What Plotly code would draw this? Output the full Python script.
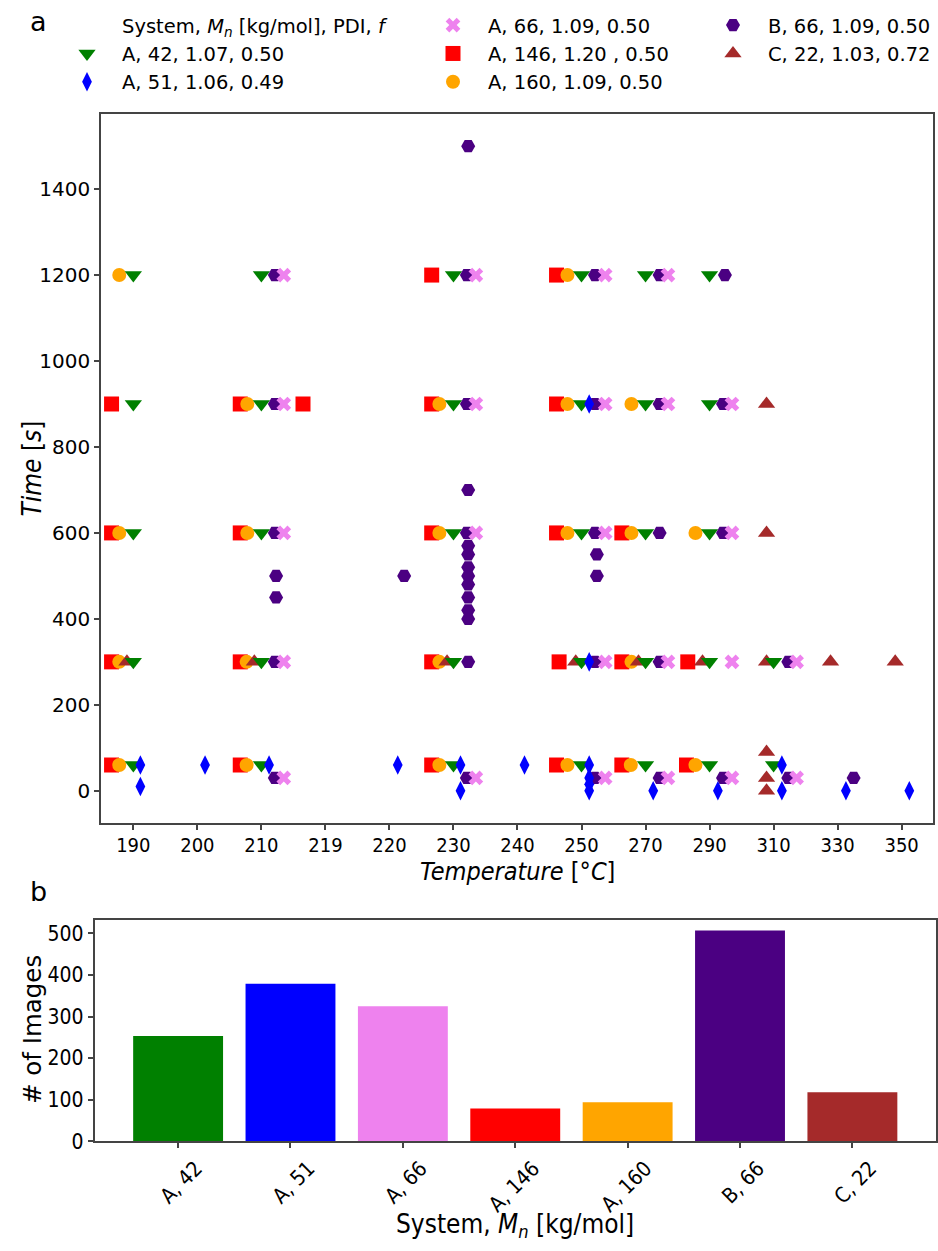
import plotly.graph_objects as go

# ---------------- data ----------------
temp_tickvals = [190, 200, 210, 220, 230, 240, 250, 260, 270, 280, 290, 300, 310]
temp_ticktext = ["190", "200", "210", "219", "220", "230", "240", "250",
                 "270", "290", "310", "330", "350"]
time_tickvals = [0, 200, 400, 600, 800, 1000, 1200, 1400]

# A, 42 (green, triangle-down)
a42_T = [190, 210, 240, 260, 270, 280,
         190, 210, 240, 260, 270, 280,
         190, 210, 240, 260, 270, 280,
         190, 210, 240, 260, 270, 280, 290,
         190, 210, 240, 260, 270, 280, 290]
a42_t = [1200] * 6 + [900] * 6 + [600] * 6 + [300] * 7 + [60] * 7

# A, 51 (blue, diamond)
a51_T = [191.1, 191.1, 201.2, 211.2, 231.3, 241.1, 241.1, 251.1, 261.2, 261.2,
         261.2, 261.2, 261.2, 261.2, 271.2, 281.3, 291.3, 291.3, 301.3, 311.2]
a51_t = [60, 10, 60, 60, 60, 60, 0, 60, 60, 30,
         15, 0, 300, 900, 0, 0, 60, 0, 0, 0]

# A, 66 (violet, x)
a66_T = [213.5, 243.5, 263.7, 273.5,
         213.5, 243.5, 263.7, 273.5, 283.5,
         213.5, 243.5, 263.7, 283.5,
         213.5, 263.7, 273.5, 283.5, 293.6,
         213.5, 243.5, 263.7, 273.5, 283.5, 293.6]
a66_t = [1200] * 4 + [900] * 5 + [600] * 4 + [300] * 5 + [30] * 6

# A, 146 (red, square)
a146_T = [236.6, 256.1,
          186.6, 206.7, 216.5, 236.6, 256.1,
          186.6, 206.7, 236.6, 256.1, 266.3,
          186.6, 206.7, 236.6, 256.5, 266.3, 276.6,
          186.6, 206.7, 236.6, 256.1, 266.3, 276.4]
a146_t = [1200] * 2 + [900] * 5 + [600] * 5 + [300] * 6 + [60] * 6

# A, 160 (orange, circle)
a160_T = [187.8, 257.8,
          207.8, 237.8, 257.8, 267.8,
          187.8, 207.8, 237.8, 257.8, 267.8, 277.8,
          187.8, 207.7, 237.8, 267.8,
          187.8, 207.7, 237.8, 257.8, 267.7, 277.8]
a160_t = [1200] * 2 + [900] * 4 + [600] * 6 + [300] * 4 + [60] * 6

# B, 66 (indigo, hexagon)
b66_T = [242.3,
         212.1, 242.1, 262.1, 272.2, 282.4,
         212.1, 242.1, 262.1, 272.2, 282.1,
         242.3,
         212.1, 242.1, 262.1, 272.2, 282.1,
         242.3, 242.3, 242.3, 242.3, 242.3, 242.3, 242.3, 242.3,
         212.3, 212.3, 232.3, 262.4, 262.4,
         212.1, 242.3, 262.1, 272.2, 292.3,
         212.1, 242.1, 262.1, 272.2, 282.1, 292.3, 302.5]
b66_t = [1500,
         1200, 1200, 1200, 1200, 1200,
         900, 900, 900, 900, 900,
         700,
         600, 600, 600, 600, 600,
         570, 550, 520, 500, 480, 450, 420, 400,
         500, 450, 500, 550, 500,
         300, 300, 300, 300, 300,
         30, 30, 30, 30, 30, 30, 30]

# C, 22 (brown, triangle-up)
c22_T = [288.9, 288.9,
         189.0, 208.9, 239.0, 259.1, 268.9, 278.9, 288.9, 298.9, 309.0,
         288.9, 288.9, 288.9]
c22_t = [900, 600,
         300, 300, 300, 300, 300, 300, 300, 300, 300,
         90, 30, 0]

# Bar chart
bar_labels = ["A, 42", "A, 51", "A, 66", "A, 146", "A, 160", "B, 66", "C, 22"]
bar_values = [253, 379, 325, 79, 94, 507, 118]
bar_colors = ["#008000", "#0000ff", "#ee82ee", "#ff0000", "#ffa500", "#4b0082", "#a52a2a"]

# ---------------- figure ----------------
W, H = 938, 1251
SANS = "DejaVu Sans"
COND = "DejaVu Sans Condensed, DejaVu Sans"
AX = "#444444"

def px_x(p):
    return p / W

def px_y(p):
    return 1 - p / H

fig = go.Figure()

series = [
    # (name, T, t, symbol, size, color, legend, rank) -- listed in drawing order
    ("A, 146, 1.20 , 0.50", a146_T, a146_t, "square", 15, "#ff0000", "legend2", 5),
    ("A, 160, 1.09, 0.50", a160_T, a160_t, "circle", 14, "#ffa500", "legend2", 6),
    ("C, 22, 1.03, 0.72", c22_T, c22_t, "triangle-up", 15, "#a52a2a", "legend3", 8),
    ("A, 42, 1.07, 0.50", a42_T, a42_t, "triangle-down", 15, "#008000", "legend", 2),
    ("B, 66, 1.09, 0.50", b66_T, b66_t, "hexagon2", 14, "#4b0082", "legend3", 7),
    ("A, 66, 1.09, 0.50", a66_T, a66_t, "x", 13, "#ee82ee", "legend2", 4),
    ("A, 51, 1.06, 0.49", a51_T, a51_t, "diamond-tall", 14, "#0000ff", "legend", 3),
]

# legend heading row (no marker), aligned with the entry texts
fig.add_trace(go.Scatter(
    x=[None], y=[None], mode="markers",
    marker=dict(size=1, opacity=0, color="white"),
    name="System, <i>M<sub>n</sub></i> [kg/mol], PDI, <i>f</i>",
    legend="legend", legendrank=1, showlegend=True, hoverinfo="skip",
    xaxis="x", yaxis="y"))

for name, T, t, sym, size, col, leg, rank in series:
    fig.add_trace(go.Scatter(
        x=T, y=t, mode="markers", name=name,
        marker=dict(symbol=sym, size=size, color=col, line=dict(width=0)),
        legend=leg, legendrank=rank, xaxis="x", yaxis="y"))

fig.add_trace(go.Bar(
    x=bar_labels, y=bar_values, marker=dict(color=bar_colors, line=dict(width=0)),
    width=0.8, showlegend=False, xaxis="x2", yaxis="y2"))

axis_common = dict(showline=True, mirror=True, linecolor=AX, linewidth=1.5,
                   ticks="outside", ticklen=5, tickwidth=1.5, tickcolor=AX,
                   showgrid=False, zeroline=False)

legend_common = dict(xanchor="left", yanchor="top", orientation="v",
                     font=dict(family=SANS, size=19.5, color="black"),
                     bgcolor="rgba(0,0,0,0)", borderwidth=0, tracegroupgap=0,
                     itemwidth=60)

fig.update_layout(
    width=W, height=H, margin=dict(l=0, r=0, t=0, b=0),
    paper_bgcolor="white", plot_bgcolor="white",
    xaxis=dict(domain=[px_x(101), px_x(933)], range=[184.95, 314.9], anchor="y",
               tickvals=temp_tickvals, ticktext=temp_ticktext, ticklabelstandoff=-2,
               tickfont=dict(family=COND, size=20, color="black"), **axis_common),
    yaxis=dict(domain=[px_y(831), px_y(115)], range=[-75, 1575], anchor="x",
               tickvals=time_tickvals,
               tickfont=dict(family=SANS, size=20, color="black"), **axis_common),
    xaxis2=dict(domain=[px_x(94.5), px_x(936)], range=[-0.744, 6.744], anchor="y2",
                type="category", tickangle=-45, ticklabelshift=18,
                tickfont=dict(family=COND, size=21, color="black"), **axis_common),
    yaxis2=dict(domain=[px_y(1152.3), px_y(929)], range=[0, 532], anchor="x2",
                tickvals=[0, 100, 200, 300, 400, 500],
                tickfont=dict(family=COND, size=21, color="black"), **axis_common),
    legend=dict(x=px_x(52), y=px_y(6), **legend_common),
    legend2=dict(x=px_x(418), y=px_y(6), **legend_common),
    legend3=dict(x=px_x(698), y=px_y(6), **legend_common),
    showlegend=True,
)

annotations = [
    dict(text="a", x=px_x(38), y=px_y(22), font=dict(family=SANS, size=27)),
    dict(text="b", x=px_x(38), y=px_y(900), font=dict(family=SANS, size=27)),
    dict(text="<i>Time</i> [<i>s</i>]", x=px_x(32), y=px_y(473), textangle=-90,
         font=dict(family=COND, size=26)),
    dict(text="<i>Temperature</i> [°<i>C</i>]", x=px_x(517), y=px_y(880),
         font=dict(family=COND, size=25)),
    dict(text="# of Images", x=px_x(32), y=px_y(1040), textangle=-90,
         font=dict(family=SANS, size=24.5)),
    dict(text="System, <i>M<sub>n</sub></i> [kg/mol]", x=px_x(515), y=px_y(1237),
         font=dict(family=COND, size=26)),
]
for a in annotations:
    a.update(xref="paper", yref="paper", showarrow=False, xanchor="center", yanchor="middle")
    a["font"]["color"] = "black"
fig.update_layout(annotations=annotations)

fig.write_html(
    "out.html",
    config={"displayModeBar": False},
    post_script=("document.documentElement.style.margin='0';"
                 "document.body.style.margin='0';"
                 "document.body.style.padding='0';"
                 "document.documentElement.style.overflow='hidden';"
                 "document.body.style.overflow='hidden';"),
)
